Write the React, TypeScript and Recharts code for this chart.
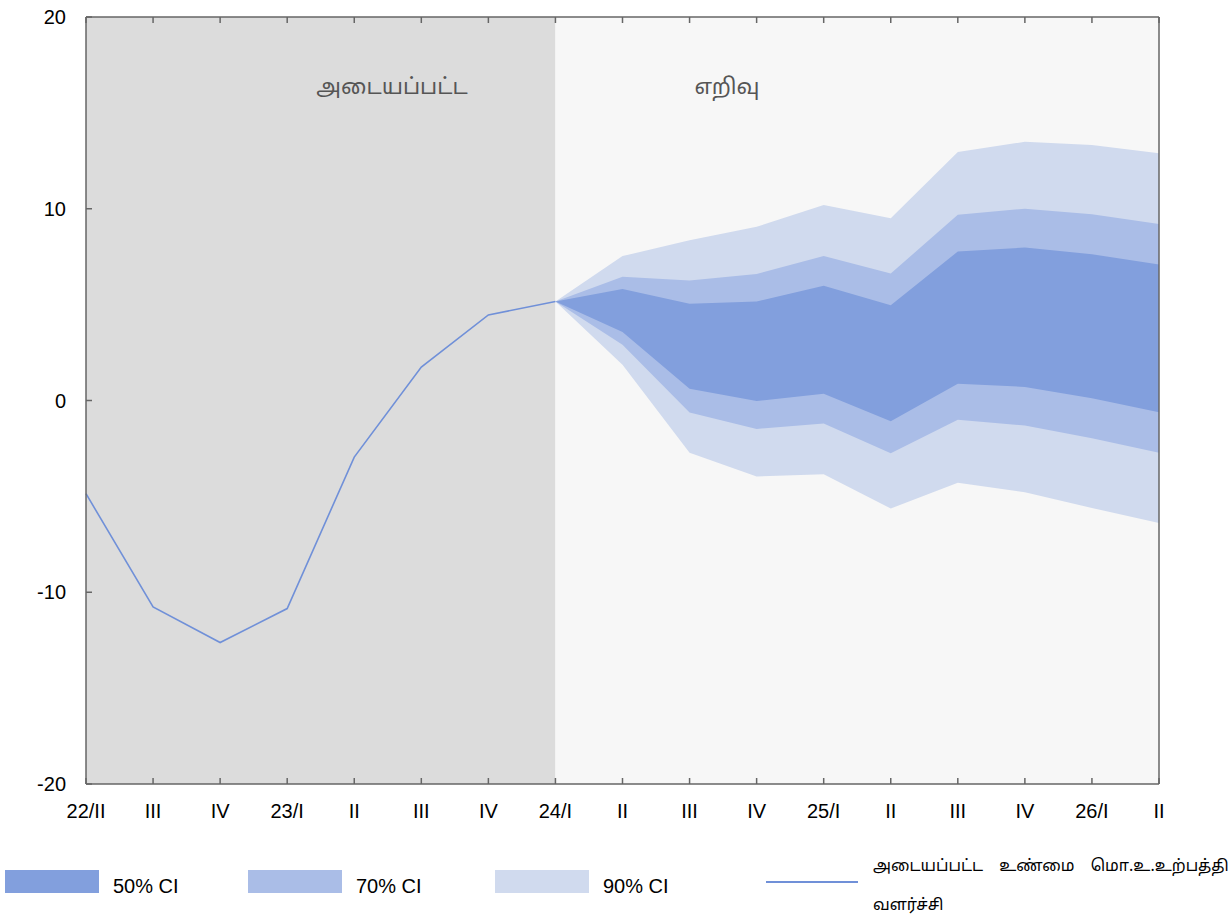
import React from 'react';
import { ComposedChart, Area, Line, XAxis, YAxis, ReferenceArea } from 'recharts';

const categories = ['22/II', 'III', 'IV', '23/I', 'II', 'III', 'IV', '24/I', 'II', 'III', 'IV', '25/I', 'II', 'III', 'IV', '26/I', 'II'];
const actualGrowth = [-4.86, -10.77, -12.62, -10.85, -2.95, 1.74, 4.46, 5.16, null, null, null, null, null, null, null, null, null];
const ci50Low = [null, null, null, null, null, null, null, 5.16, 3.57, 0.61, -0.03, 0.35, -1.08, 0.87, 0.71, 0.12, -0.61];
const ci50High = [null, null, null, null, null, null, null, 5.16, 5.82, 5.05, 5.16, 5.98, 4.97, 7.77, 7.98, 7.63, 7.09];
const ci70Low = [null, null, null, null, null, null, null, 5.16, 2.91, -0.63, -1.48, -1.2, -2.75, -1.01, -1.31, -1.97, -2.73];
const ci70High = [null, null, null, null, null, null, null, 5.16, 6.45, 6.26, 6.6, 7.53, 6.62, 9.69, 10.0, 9.71, 9.2];
const ci90Low = [null, null, null, null, null, null, null, 5.16, 1.86, -2.72, -3.96, -3.85, -5.63, -4.29, -4.79, -5.61, -6.39];
const ci90High = [null, null, null, null, null, null, null, 5.16, 7.53, 8.36, 9.06, 10.19, 9.5, 12.96, 13.49, 13.33, 12.9];
const yTicks = [-20, -10, 0, 10, 20];
const periodLabels = ['அடையப்பட்ட', 'எறிவு'];
const legendLabels = ['50% CI', '70% CI', '90% CI', 'அடையப்பட்ட உண்மை மொ.உ.உற்பத்தி வளர்ச்சி'];

const COLORS = {
  c50: '#829fdd',
  c70: '#aabde7',
  c90: '#d0daee',
  line: '#7090d8',
  axis: '#666666',
  past: '#dcdcdc',
  future: '#f7f7f7',
};

const FONT = '"Liberation Sans", Arial, sans-serif';
const TAMIL_FONT = '"Noto Sans Tamil", "Noto Sans", sans-serif';

const data = categories.map((c, i) => ({
  idx: i,
  label: c,
  actual: actualGrowth[i],
  r50: ci50Low[i] == null ? null : [ci50Low[i], ci50High[i]],
  r70: ci70Low[i] == null ? null : [ci70Low[i], ci70High[i]],
  r90: ci90Low[i] == null ? null : [ci90Low[i], ci90High[i]],
}));

const xTickValues = categories.map((_, i) => i);

const BottomTick = (props: any) => {
  const { x, y, payload } = props;
  const axisY = y - 20;
  return (
    <g>
      <line x1={x} y1={axisY} x2={x} y2={axisY - 6} stroke={COLORS.axis} strokeWidth={1.5} />
      <text x={x} y={y} dy="0.72em" textAnchor="middle" fontSize={20} fill="#000" fontFamily={FONT}>
        {categories[payload.value]}
      </text>
    </g>
  );
};

const TopTick = (props: any) => {
  const { x, y } = props;
  return <line x1={x} y1={y} x2={x} y2={y + 6} stroke={COLORS.axis} strokeWidth={1.5} />;
};

const LeftTick = (props: any) => {
  const { x, y, payload } = props;
  const axisX = x + 20;
  return (
    <g>
      <line x1={axisX} y1={y} x2={axisX + 6} y2={y} stroke={COLORS.axis} strokeWidth={1.5} />
      <text x={x} y={y} dy="0.36em" textAnchor="end" fontSize={20} fill="#000" fontFamily={FONT}>
        {payload.value}
      </text>
    </g>
  );
};

const RightTick = (props: any) => {
  const { x, y } = props;
  return <line x1={x} y1={y} x2={x - 6} y2={y} stroke={COLORS.axis} strokeWidth={1.5} />;
};

export default function App() {
  return (
    <div style={{ position: 'absolute', left: 0, top: 0, width: 1229, height: 923, background: '#fff', fontFamily: FONT, overflow: 'hidden' }}>
      <div style={{ position: 'absolute', left: 0, top: 0 }}>
        <ComposedChart
          width={1229}
          height={840}
          data={data}
          margin={{ top: 16, right: 69, bottom: 0, left: 0 }}
        >
          <XAxis
            dataKey="idx"
            type="number"
            domain={[0, 16]}
            ticks={xTickValues}
            interval={0}
            allowDecimals={false}
            height={56}
            tickSize={0}
            tickMargin={20}
            tick={<BottomTick />}
            axisLine={{ stroke: COLORS.axis, strokeWidth: 1.5 }}
            tickLine={false}
          />
          <XAxis
            xAxisId="top"
            orientation="top"
            dataKey="idx"
            type="number"
            domain={[0, 16]}
            ticks={xTickValues}
            interval={0}
            height={1}
            tickSize={0}
            tickMargin={0}
            tick={<TopTick />}
            axisLine={{ stroke: COLORS.axis, strokeWidth: 1.5 }}
            tickLine={false}
          />
          <YAxis
            type="number"
            domain={[-20, 20]}
            ticks={yTicks}
            interval={0}
            width={86}
            tickSize={0}
            tickMargin={20}
            tick={<LeftTick />}
            axisLine={{ stroke: COLORS.axis, strokeWidth: 1.5 }}
            tickLine={false}
          />
          <YAxis
            yAxisId="right"
            orientation="right"
            type="number"
            domain={[-20, 20]}
            ticks={yTicks}
            interval={0}
            width={1}
            tickSize={0}
            tickMargin={0}
            tick={<RightTick />}
            axisLine={{ stroke: COLORS.axis, strokeWidth: 1.5 }}
            tickLine={false}
          />
          <ReferenceArea x1={0} x2={7} y1={-20} y2={20} fill={COLORS.past} fillOpacity={1} stroke="none" ifOverflow="hidden" />
          <ReferenceArea x1={7} x2={16} y1={-20} y2={20} fill={COLORS.future} fillOpacity={1} stroke="none" ifOverflow="hidden" />
          <Area dataKey="r90" type="linear" fill={COLORS.c90} fillOpacity={1} stroke="none" isAnimationActive={false} connectNulls={false} />
          <Area dataKey="r70" type="linear" fill={COLORS.c70} fillOpacity={1} stroke="none" isAnimationActive={false} connectNulls={false} />
          <Area dataKey="r50" type="linear" fill={COLORS.c50} fillOpacity={1} stroke="none" isAnimationActive={false} connectNulls={false} />
          <Line dataKey="actual" type="linear" stroke={COLORS.line} strokeWidth={1.6} dot={false} isAnimationActive={false} />
        </ComposedChart>
      </div>
      <div style={{ position: 'absolute', left: 392, top: 88, transform: 'translate(-50%, -50%)', fontSize: 22, color: '#555', fontFamily: TAMIL_FONT, whiteSpace: 'nowrap' }}>
        {periodLabels[0]}
      </div>
      <div style={{ position: 'absolute', left: 727, top: 88, transform: 'translate(-50%, -50%)', fontSize: 22, color: '#555', fontFamily: TAMIL_FONT, whiteSpace: 'nowrap' }}>
        {periodLabels[1]}
      </div>
      {[COLORS.c50, COLORS.c70, COLORS.c90].map((col, i) => {
        const left = [5, 248, 495][i];
        return (
          <div key={i}>
            <div style={{ position: 'absolute', left, top: 870, width: 94, height: 23, background: col }} />
            <div style={{ position: 'absolute', left: left + 108, top: 886, transform: 'translateY(-50%)', fontSize: 20, color: '#000', whiteSpace: 'nowrap' }}>
              {legendLabels[i]}
            </div>
          </div>
        );
      })}
      <div style={{ position: 'absolute', left: 766, top: 881, width: 92, height: 2, background: COLORS.line }} />
      <div style={{ position: 'absolute', left: 873, top: 848, width: 370, fontSize: 16, lineHeight: '39px', wordSpacing: 12, color: '#000', fontFamily: TAMIL_FONT }}>
        {legendLabels[3]}
      </div>
    </div>
  );
}
